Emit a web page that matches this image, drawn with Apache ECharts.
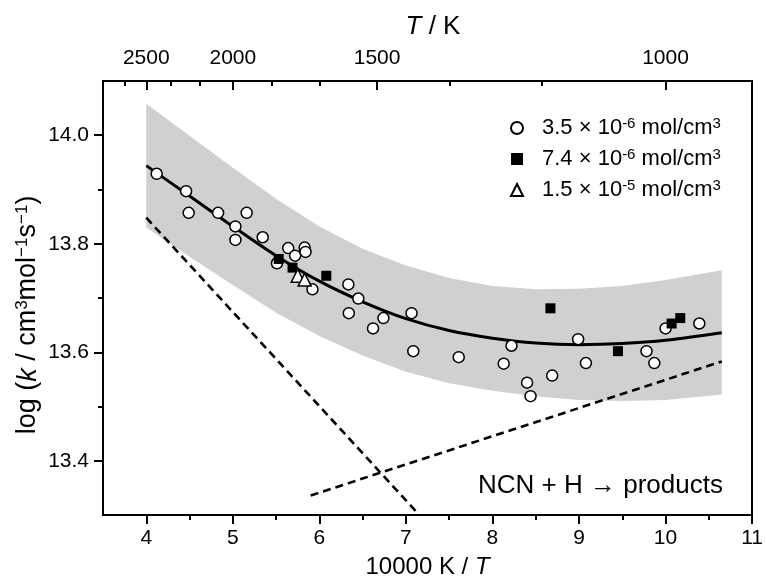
<!DOCTYPE html>
<html><head><meta charset="utf-8">
<script src="https://cdn.jsdelivr.net/npm/echarts@6/dist/echarts.min.js"></script>
<style>html,body{margin:0;padding:0;background:#fff}#c{width:766px;height:584px}</style>
</head><body><div id="c"></div><script>
// ---- data ----
const circleX = [4.12,4.46,4.49,4.83,5.16,5.03,5.03,5.345,5.64,5.83,5.84,5.72,5.51,5.92,6.335,6.45,6.34,6.62,6.74,7.065,7.085,7.61,8.13,8.22,8.40,8.44,8.69,8.99,9.08,9.78,9.87,10.0,10.39];
const circleY = [13.929,13.897,13.857,13.857,13.857,13.832,13.807,13.812,13.792,13.793,13.785,13.778,13.764,13.716,13.725,13.699,13.672,13.644,13.663,13.672,13.602,13.591,13.579,13.612,13.544,13.519,13.557,13.624,13.580,13.602,13.580,13.644,13.653];
const squareX = [5.53,5.69,6.08,8.67,9.45,10.07,10.17];
const squareY = [13.772,13.756,13.741,13.681,13.602,13.653,13.663];
const triX = [5.75,5.83];
const triY = [13.741,13.734];
const fitX = [4.0,4.5,5.0,5.5,6.0,6.5,7.0,7.5,8.0,8.5,9.0,9.5,10.0,10.65];
const fitY = [13.944,13.888,13.832,13.778,13.731,13.693,13.662,13.640,13.626,13.617,13.614,13.616,13.622,13.636];
const bandX = [4.0,4.5,5.0,5.5,6.0,6.5,7.0,7.5,8.0,8.5,9.0,9.5,10.0,10.65];
const bandUpper = [14.058,13.999,13.940,13.883,13.832,13.791,13.760,13.737,13.722,13.716,13.717,13.722,13.733,13.751];
const bandLower = [13.830,13.776,13.724,13.673,13.630,13.594,13.564,13.543,13.529,13.519,13.512,13.510,13.512,13.522];
const dash1X = [4.0,7.15], dash1Y = [13.848,13.301];
const dash2X = [5.9,10.65], dash2Y = [13.336,13.583];
const xMajor = [4,5,6,7,8,9,10,11];
const xMinor = [4.5,5.5,6.5,7.5,8.5,9.5,10.5];
const yMajor = [13.4,13.6,13.8,14.0];
const yMinor = [13.5,13.7,13.9];
const tempMajor = [2500,2000,1500,1000];
const tempMinor = [2667,2333,2167,1833,1667,1333,1167];
const seriesNames = ['c35','s74','t15'];
const legendLabels = {
  c35: '{p|}{n|3.5 × 10}{s|-6}{n| mol/cm}{s|3}',
  s74: '{p|}{n|7.4 × 10}{s|-6}{n| mol/cm}{s|3}',
  t15: '{p|}{n|1.5 × 10}{s|-5}{n| mol/cm}{s|3}'
};
const yTitle = '{n|log (}{i|k}{n| / cm}{s|3}{n|mol}{s|−1}{n|s}{s|−1}{n|)}';
const xTitle = '{n|10000 K / }{i|T}';
const topTitle = '{i|T}{n| / K}';
const noteText = 'NCN + H \u2192 products';
// --------------------------------------
const FONT = '"Liberation Sans", Arial, Helvetica, sans-serif';
const zip = (a,b) => a.map((v,i)=>[v,b[i]]);
const black = '#000';
const lineBase = {lineStyle:{color:black,width:2}};
const chart = echarts.init(document.getElementById('c'), null, {renderer:'canvas'});
const xCommon = {type:'value', min:3.5, max:11, splitLine:{show:false}, gridIndex:0};
const yCommon = {type:'value', min:13.3, max:14.1, splitLine:{show:false}, gridIndex:0};
const richT = (fs, ss, raise) => ({
  n:{fontSize:fs, fontFamily:FONT, color:black},
  i:{fontSize:fs, fontFamily:FONT, color:black, fontStyle:'italic'},
  s:{fontSize:ss, fontFamily:FONT, color:black, verticalAlign:'top', padding:[0,0,raise,0]}
});
const bandPoly = zip(bandX,bandUpper).concat(zip(bandX,bandLower).reverse());
chart.setOption({
  animation:false,
  backgroundColor:'#fff',
  grid:{left:103, right:13, top:81, bottom:66, containLabel:false},
  xAxis:[
    Object.assign({}, xCommon, {position:'bottom',
      axisLine:Object.assign({show:true,onZero:false},lineBase),
      axisTick:{show:true, inside:false, length:9, customValues:xMajor, lineStyle:{color:black,width:2}},
      axisLabel:{show:true, customValues:xMajor, margin:13, fontSize:21, fontFamily:FONT, color:black},
      name:xTitle, nameLocation:'middle', nameGap:40,
      nameTextStyle:{rich:richT(24,15,10)}
    }),
    Object.assign({}, xCommon, {position:'bottom',
      axisLine:{show:false,onZero:false},
      axisTick:{show:true, inside:false, length:5, customValues:xMinor, lineStyle:{color:black,width:2}},
      axisLabel:{show:false}
    }),
    Object.assign({}, xCommon, {position:'top',
      axisLine:Object.assign({show:true,onZero:false},lineBase),
      axisTick:{show:true, inside:true, length:9, customValues:tempMajor.map(t=>10000/t), lineStyle:{color:black,width:2}},
      axisLabel:{show:true, customValues:tempMajor.map(t=>10000/t), margin:12, fontSize:21, fontFamily:FONT, color:black,
        formatter:v=>String(Math.round(10000/v/10)*10)}
    }),
    Object.assign({}, xCommon, {position:'top',
      axisLine:{show:false,onZero:false},
      axisTick:{show:true, inside:true, length:5, customValues:tempMinor.map(t=>10000/t), lineStyle:{color:black,width:2}},
      axisLabel:{show:false}
    })
  ],
  yAxis:[
    Object.assign({}, yCommon, {position:'left',
      axisLine:Object.assign({show:true,onZero:false},lineBase),
      axisTick:{show:true, inside:false, length:9, customValues:yMajor, lineStyle:{color:black,width:2}},
      axisLabel:{show:true, customValues:yMajor, margin:14, fontSize:21, fontFamily:FONT, color:black,
        formatter:v=>v.toFixed(1)}
    }),
    Object.assign({}, yCommon, {position:'left',
      axisLine:{show:false,onZero:false},
      axisTick:{show:true, inside:false, length:5, customValues:yMinor, lineStyle:{color:black,width:2}},
      axisLabel:{show:false}
    }),
    Object.assign({}, yCommon, {position:'right',
      axisLine:Object.assign({show:true,onZero:false},lineBase),
      axisTick:{show:false}, axisLabel:{show:false}
    })
  ],
  legend:{
    data:seriesNames, orient:'vertical', left:505, top:111, itemWidth:12, itemHeight:12, itemGap:8,
    formatter:n=>legendLabels[n],
    textStyle:{rich:{
      p:{width:14},
      n:{fontSize:22, fontFamily:FONT, color:black, lineHeight:24},
      s:{fontSize:15, fontFamily:FONT, color:black, verticalAlign:'top', lineHeight:24}
    }}
  },
  graphic:[
    {type:'text', x:28, y:315, rotation:Math.PI/2,
      style:{text:yTitle, align:'center', verticalAlign:'middle', rich:richT(27,17,11)}},
    {type:'text', x:433, y:27,
      style:{text:topTitle, align:'center', verticalAlign:'middle', rich:richT(26,16,10)}},
    {type:'text', x:478, y:486,
      style:{text:noteText, font:'26px '+FONT, fill:black, align:'left', verticalAlign:'middle'}}
  ],
  series:[
    {type:'custom', name:'band', data:[bandPoly[0]], silent:true, z:1, xAxisIndex:0, yAxisIndex:0,
      renderItem:(params, api)=>({type:'polygon', shape:{points:bandPoly.map(p=>api.coord(p))}, style:{fill:'#d0d0d0'}})},
    {type:'line', name:'d1', data:zip(dash1X,dash1Y), symbol:'none', lineStyle:{color:black,width:2.6,type:[8,5]}, z:2},
    {type:'line', name:'d2', data:zip(dash2X,dash2Y), symbol:'none', lineStyle:{color:black,width:2.6,type:[8,5]}, z:2},
    {type:'line', name:'fit', data:zip(fitX,fitY), symbol:'none', smooth:0.35, lineStyle:{color:black,width:3}, z:3},
    {type:'scatter', name:'c35', data:zip(circleX,circleY), symbol:'circle', symbolSize:11,
      itemStyle:{color:'#fff', borderColor:black, borderWidth:1.5, opacity:1}, z:4},
    {type:'scatter', name:'s74', data:zip(squareX,squareY), symbol:'rect', symbolSize:10,
      itemStyle:{color:black, borderColor:black, borderWidth:0, opacity:1}, z:5},
    {type:'scatter', name:'t15', data:zip(triX,triY), symbol:'triangle', symbolSize:13,
      itemStyle:{color:'#fff', borderColor:black, borderWidth:1.5, opacity:1}, z:6}
  ]
});
</script></body></html>
